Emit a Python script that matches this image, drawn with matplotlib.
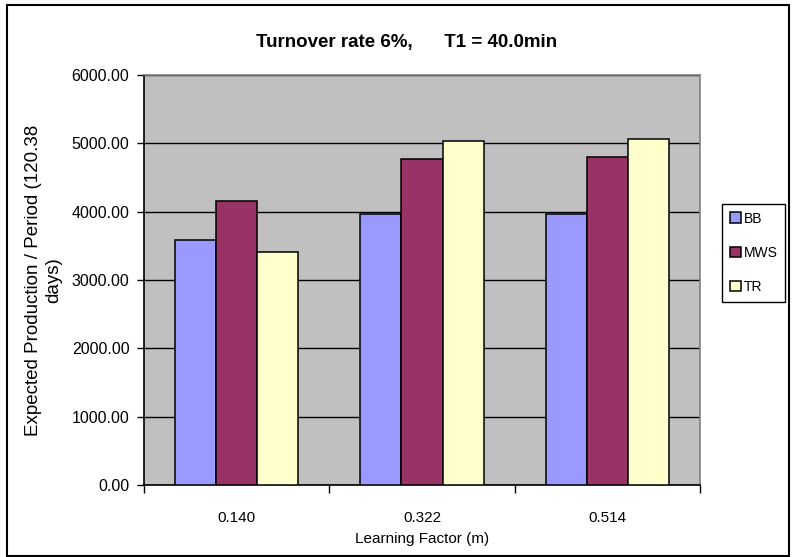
import numpy as np
import matplotlib
matplotlib.use("Agg")
import matplotlib.pyplot as plt
from matplotlib.patches import Rectangle

#---------------- datos ----------------
categories = ["0.140", "0.322", "0.514"]
bb = [3585, 3965, 3970]
mws = [4152, 4771, 4795]
tr = [3405, 5030, 5059]
series = ["BB", "MWS", "TR"]
colores = ["#9999FF", "#993366", "#FFFFCC"]

plt.rcParams['font.family'] = ['Liberation Sans', 'DejaVu Sans']

fig = plt.figure(figsize=(7.98, 5.57), dpi=100)
ax = fig.add_axes([144/798., 72/557., 556/798., 410/557.])
ax.set_facecolor("#C0C0C0")

# marco exterior del grafico
fig.patches.append(Rectangle((7/798., 1/557.), 782/798., 551/557., transform=fig.transFigure,
                             fill=False, edgecolor="black", lw=1.5))

x = np.arange(len(categories))
w = 1.0/4.5
for k, (vals, nom, c) in enumerate(zip([bb, mws, tr], series, colores)):
    ax.bar(x + (k-1)*w, vals, w, color=c, edgecolor="black", lw=1.1, label=nom, zorder=3)

ax.set_xlim(-0.5, len(categories)-0.5)
ax.set_ylim(0, 6000)
ax.set_yticks(np.arange(0, 6001, 1000))
ax.set_yticklabels(["%.2f" % v for v in np.arange(0, 6001, 1000)], fontsize=11.5)
ax.yaxis.grid(True, color="black", lw=1.0, zorder=0)
ax.set_axisbelow(True)

ax.set_xticks(x)
ax.set_xticklabels(categories, fontsize=11)
ax.set_xticks(np.arange(-0.5, len(categories)), minor=True)
ax.tick_params(axis='x', which='major', length=0, pad=19)
ax.tick_params(axis='x', which='minor', length=6, width=1.0, direction='out')
ax.tick_params(axis='y', length=5, width=1.0, direction='out', pad=5.5)

for s in ["top", "right"]:
    ax.spines[s].set_color("#808080")
    ax.spines[s].set_linewidth(1.2)
for s in ["left", "bottom"]:
    ax.spines[s].set_color("black")
    ax.spines[s].set_linewidth(1.2)

ax.set_xlabel("Learning Factor (m)", fontsize=11, labelpad=5)
ax.set_ylabel("Expected Production / Period (120.38\ndays)", fontsize=13.5, labelpad=7)
fig.text(407/798., 1-47/557., "Turnover rate 6%,      T1 = 40.0min", fontsize=13.5,
         fontweight="bold", ha="center", va="baseline")

leg = fig.legend(loc="upper left", bbox_to_anchor=(722/798., 1-204/557.), fontsize=10,
                 handlelength=0.8, handleheight=0.8, handletextpad=0.2, labelspacing=1.45,
                 borderpad=0.55, borderaxespad=0, fancybox=False, edgecolor="black", framealpha=1)
leg.get_frame().set_linewidth(1.0)

plt.savefig("out.png", dpi=100)
